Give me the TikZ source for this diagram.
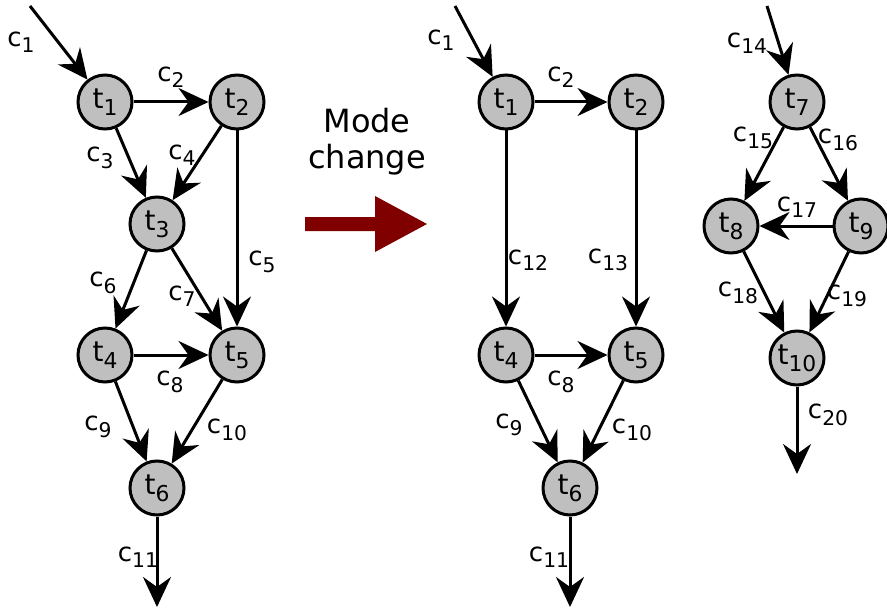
\documentclass[tikz,border=0pt]{standalone}
\usepackage{fontspec}
\setmainfont{DejaVu Sans}
\usetikzlibrary{arrows.meta}

\newcommand{\sbs}[1]{\raisebox{-0.45ex}{\scalebox{0.78}{#1}}}
\newcommand{\tsk}[1]{t\sbs{#1}}
\newcommand{\ch}[1]{c\sbs{#1}}

\begin{document}
\begin{tikzpicture}[x=0.5pt, y=-0.5pt,
    task/.style={circle, draw, line width=1.5pt, fill=black!25, minimum size=27pt, inner sep=0pt, font=\fontsize{14}{16}\selectfont},
    lbl/.style={inner sep=0pt, font=\fontsize{13}{15}\selectfont},
    flow/.style={line width=1.5pt, -{Stealth[length=15pt, width=14pt, inset=5pt]}}]
        \useasboundingbox (0,0) rectangle (887,609);

        % Przed zmiana trybu
        \node[task] (a1) at (105,102) {\tsk{1}};
        \node[task] (a2) at (237,102) {\tsk{2}};
        \node[task] (a3) at (157,224) {\tsk{3}};
        \node[task] (a4) at (105,355) {\tsk{4}};
        \node[task] (a5) at (237,355) {\tsk{5}};
        \node[task] (a6) at (157,488) {\tsk{6}};
        \coordinate (ain) at (30,6);
        \coordinate (aout) at (157,607);

        \draw[flow] (ain) -- (a1);
        \draw[flow] (a1) -- (a2);
        \draw[flow] (a1) -- (a3);
        \draw[flow] (a2) -- (a3);
        \draw[flow] (a2) -- (a5);
        \draw[flow] (a3) -- (a4);
        \draw[flow] (a3) -- (a5);
        \draw[flow] (a4) -- (a5);
        \draw[flow] (a4) -- (a6);
        \draw[flow] (a5) -- (a6);
        \draw[flow] (a6) -- (aout);

        \node[lbl] (la1) at (21,42) {\ch{1}};
        \node[lbl] (la2) at (171,77) {\ch{2}};
        \node[lbl] (la3) at (100,158) {\ch{3}};
        \node[lbl] (la4) at (182,155) {\ch{4}};
        \node[lbl] (la5) at (262,262) {\ch{5}};
        \node[lbl] (la6) at (103,283) {\ch{6}};
        \node[lbl] (la7) at (182,296) {\ch{7}};
        \node[lbl] (la8) at (170,382) {\ch{8}};
        \node[lbl] (la9) at (98,427) {\ch{9}};
        \node[lbl] (la10) at (227,430) {\ch{10}};
        \node[lbl] (la11) at (138,557) {\ch{11}};

        % Zmiana trybu
        \node[align=center, inner sep=0pt, font=\fontsize{16}{18}\selectfont] (mode) at (367,142) {Mode\\change};
        \fill[red!50!black] (305,217) -- (375,217) -- (375,196) -- (427,224) -- (375,252) -- (375,231) -- (305,231) -- cycle;

        % Po zmianie trybu
        \node[task] (b1) at (506,102) {\tsk{1}};
        \node[task] (b2) at (636,102) {\tsk{2}};
        \node[task] (b4) at (506,355) {\tsk{4}};
        \node[task] (b5) at (636,355) {\tsk{5}};
        \node[task] (b6) at (570,488) {\tsk{6}};
        \coordinate (bin) at (455,6);
        \coordinate (bout) at (570,607);

        \draw[flow] (bin) -- (b1);
        \draw[flow] (b1) -- (b2);
        \draw[flow] (b1) -- (b4);
        \draw[flow] (b2) -- (b5);
        \draw[flow] (b4) -- (b5);
        \draw[flow] (b4) -- (b6);
        \draw[flow] (b5) -- (b6);
        \draw[flow] (b6) -- (bout);

        \node[lbl] (lb1) at (441,40) {\ch{1}};
        \node[lbl] (lb2) at (561,77) {\ch{2}};
        \node[lbl] (lb12) at (528,260) {\ch{12}};
        \node[lbl] (lb13) at (608,260) {\ch{13}};
        \node[lbl] (lb8) at (561,382) {\ch{8}};
        \node[lbl] (lb9) at (509,425) {\ch{9}};
        \node[lbl] (lb10) at (632,430) {\ch{10}};
        \node[lbl] (lb11) at (549,557) {\ch{11}};

        % Nowe zadania
        \node[task] (c7) at (797,102) {\tsk{7}};
        \node[task] (c8) at (731,226) {\tsk{8}};
        \node[task] (c9) at (861,226) {\tsk{9}};
        \node[task] (c10) at (797,358) {\tsk{10}};
        \coordinate (cin) at (767,6);
        \coordinate (cout) at (797,474);

        \draw[flow] (cin) -- (c7);
        \draw[flow] (c7) -- (c8);
        \draw[flow] (c7) -- (c9);
        \draw[flow] (c9) -- (c8);
        \draw[flow] (c8) -- (c10);
        \draw[flow] (c9) -- (c10);
        \draw[flow] (c10) -- (cout);

        \node[lbl] (lc14) at (747,43) {\ch{14}};
        \node[lbl] (lc15) at (753,138) {\ch{15}};
        \node[lbl] (lc16) at (838,140) {\ch{16}};
        \node[lbl] (lc17) at (797,207) {\ch{17}};
        \node[lbl] (lc18) at (738,293) {\ch{18}};
        \node[lbl] (lc19) at (847,296) {\ch{19}};
        \node[lbl] (lc20) at (828,415) {\ch{20}};
    \end{tikzpicture}
\end{document}
